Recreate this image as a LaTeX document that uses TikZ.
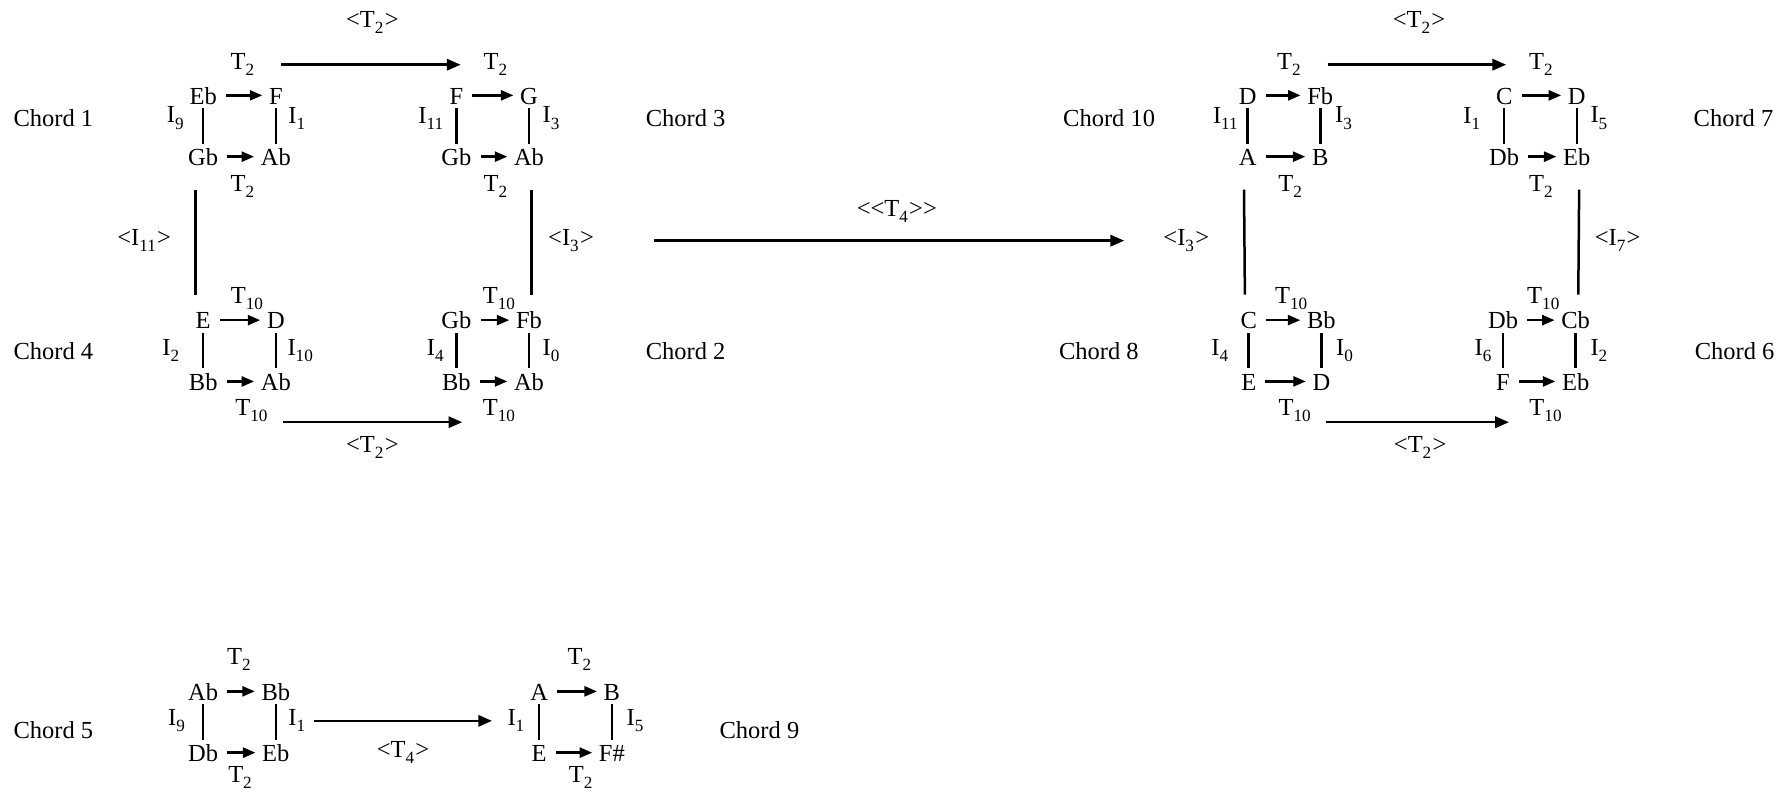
\documentclass[tikz,border=0pt]{standalone}
\usepackage{fontspec}
\setmainfont{Liberation Serif}
\usepackage{tikz}
\usetikzlibrary{arrows.meta}

\newcommand{\low}[1]{\textsubscript{\raisebox{-0.3ex}{#1}}}

\begin{document}
\begin{tikzpicture}[x=0.454pt, y=-0.454pt,
    font=\fontsize{9.8}{11}\selectfont,
    note/.style={inner xsep=2.5pt, inner ysep=1.5pt, text height=7pt, text depth=0pt},
    op/.style={inner sep=1pt},
    move/.style={-{Triangle[length=5pt,width=4pt]}, line width=1pt, shorten <=1pt},
    link/.style={line width=1pt},
    bigmove/.style={-{Triangle[length=5.5pt,width=4.5pt]}, line width=1pt}
]
\useasboundingbox (0,0) rectangle (1568,697.7);

% Chord 1
\begin{scope}[shift={(179,84)}, name prefix=c1-]
\node[note] (tl) at (0,0) {Eb};
\node[note] (tr) at (64,0) {F};
\node[note] (bl) at (0,54) {Gb};
\node[note] (br) at (64,54) {Ab};
\node[op] (tt) at (35,-27) {T\low{2}};
\node[op] (tb) at (35,80) {T\low{2}};
\node[op] (il) at (-24,20) {I\low{9}};
\node[op] (ir) at (83,20) {I\low{1}};
\draw[move] (tl) -- (tr);
\draw[move] (bl) -- (br);
\draw[link] (tl) -- (bl);
\draw[link] (tr) -- (br);
\end{scope}

% Chord 3
\begin{scope}[shift={(402,84)}, name prefix=c3-]
\node[note] (tl) at (0,0) {F};
\node[note] (tr) at (64,0) {G};
\node[note] (bl) at (0,54) {Gb};
\node[note] (br) at (64,54) {Ab};
\node[op] (tt) at (35,-27) {T\low{2}};
\node[op] (tb) at (35,80) {T\low{2}};
\node[op] (il) at (-22,20) {I\low{11}};
\node[op] (ir) at (84,20) {I\low{3}};
\draw[move] (tl) -- (tr);
\draw[move] (bl) -- (br);
\draw[link] (tl) -- (bl);
\draw[link] (tr) -- (br);
\end{scope}

% Chord 4
\begin{scope}[shift={(179,282)}, name prefix=c4-]
\node[note] (tl) at (0,0) {E};
\node[note] (tr) at (64,0) {D};
\node[note] (bl) at (0,54) {Bb};
\node[note] (br) at (64,54) {Ab};
\node[op] (tt) at (39,-19) {T\low{10}};
\node[op] (tb) at (43,80) {T\low{10}};
\node[op] (il) at (-28,27) {I\low{2}};
\node[op] (ir) at (86,27) {I\low{10}};
\draw[move] (tl) -- (tr);
\draw[move] (bl) -- (br);
\draw[link] (tl) -- (bl);
\draw[link] (tr) -- (br);
\end{scope}

% Chord 2
\begin{scope}[shift={(402,282)}, name prefix=c2-]
\node[note] (tl) at (0,0) {Gb};
\node[note] (tr) at (64,0) {Fb};
\node[note] (bl) at (0,54) {Bb};
\node[note] (br) at (64,54) {Ab};
\node[op] (tt) at (38,-19) {T\low{10}};
\node[op] (tb) at (38,80) {T\low{10}};
\node[op] (il) at (-18,27) {I\low{4}};
\node[op] (ir) at (84,27) {I\low{0}};
\draw[move] (tl) -- (tr);
\draw[move] (bl) -- (br);
\draw[link] (tl) -- (bl);
\draw[link] (tr) -- (br);
\end{scope}

% Chord 10
\begin{scope}[shift={(1099,84)}, name prefix=c10-]
\node[note] (tl) at (0,0) {D};
\node[note] (tr) at (64,0) {Fb};
\node[note] (bl) at (0,54) {A};
\node[note] (br) at (64,54) {B};
\node[op] (tt) at (37,-27) {T\low{2}};
\node[op] (tb) at (38,80) {T\low{2}};
\node[op] (il) at (-19,20) {I\low{11}};
\node[op] (ir) at (85,20) {I\low{3}};
\draw[move] (tl) -- (tr);
\draw[move] (bl) -- (br);
\draw[link] (tl) -- (bl);
\draw[link] (tr) -- (br);
\end{scope}

% Chord 7
\begin{scope}[shift={(1325,84)}, name prefix=c7-]
\node[note] (tl) at (0,0) {C};
\node[note] (tr) at (64,0) {D};
\node[note] (bl) at (0,54) {Db};
\node[note] (br) at (64,54) {Eb};
\node[op] (tt) at (33,-27) {T\low{2}};
\node[op] (tb) at (33,80) {T\low{2}};
\node[op] (il) at (-28,20) {I\low{1}};
\node[op] (ir) at (84,20) {I\low{5}};
\draw[move] (tl) -- (tr);
\draw[move] (bl) -- (br);
\draw[link] (tl) -- (bl);
\draw[link] (tr) -- (br);
\end{scope}

% Chord 8
\begin{scope}[shift={(1100,282)}, name prefix=c8-]
\node[note] (tl) at (0,0) {C};
\node[note] (tr) at (64,0) {Bb};
\node[note] (bl) at (0,54) {E};
\node[note] (br) at (64,54) {D};
\node[op] (tt) at (38,-19) {T\low{10}};
\node[op] (tb) at (41,80) {T\low{10}};
\node[op] (il) at (-25,27) {I\low{4}};
\node[op] (ir) at (85,27) {I\low{0}};
\draw[move] (tl) -- (tr);
\draw[move] (bl) -- (br);
\draw[link] (tl) -- (bl);
\draw[link] (tr) -- (br);
\end{scope}

% Chord 6
\begin{scope}[shift={(1324,282)}, name prefix=c6-]
\node[note] (tl) at (0,0) {Db};
\node[note] (tr) at (64,0) {Cb};
\node[note] (bl) at (0,54) {F};
\node[note] (br) at (64,54) {Eb};
\node[op] (tt) at (36,-19) {T\low{10}};
\node[op] (tb) at (38,80) {T\low{10}};
\node[op] (il) at (-17,27) {I\low{6}};
\node[op] (ir) at (85,27) {I\low{2}};
\draw[move] (tl) -- (tr);
\draw[move] (bl) -- (br);
\draw[link] (tl) -- (bl);
\draw[link] (tr) -- (br);
\end{scope}

% Chord 5
\begin{scope}[shift={(179,609)}, name prefix=c5-]
\node[note] (tl) at (0,0) {Ab};
\node[note] (tr) at (64,0) {Bb};
\node[note] (bl) at (0,54) {Db};
\node[note] (br) at (64,54) {Eb};
\node[op] (tt) at (32,-28) {T\low{2}};
\node[op] (tb) at (33,76) {T\low{2}};
\node[op] (il) at (-23,26) {I\low{9}};
\node[op] (ir) at (83,26) {I\low{1}};
\draw[move] (tl) -- (tr);
\draw[move] (bl) -- (br);
\draw[link] (tl) -- (bl);
\draw[link] (tr) -- (br);
\end{scope}

% Chord 9
\begin{scope}[shift={(475,609)}, name prefix=c9-]
\node[note] (tl) at (0,0) {A};
\node[note] (tr) at (64,0) {B};
\node[note] (bl) at (0,54) {E};
\node[note] (br) at (64,54) {F\#};
\node[op] (tt) at (36,-28) {T\low{2}};
\node[op] (tb) at (37,76) {T\low{2}};
\node[op] (il) at (-20,26) {I\low{1}};
\node[op] (ir) at (85,26) {I\low{5}};
\draw[move] (tl) -- (tr);
\draw[move] (bl) -- (br);
\draw[link] (tl) -- (bl);
\draw[link] (tr) -- (br);
\end{scope}

% chord names
\node (ch1) at (47,104) {Chord 1};
\node (ch3) at (604,104) {Chord 3};
\node (ch4) at (47,309) {Chord 4};
\node (ch2) at (604,309) {Chord 2};
\node (ch10) at (977,104) {Chord 10};
\node (ch7) at (1527,104) {Chord 7};
\node (ch8) at (968,309) {Chord 8};
\node (ch6) at (1528,309) {Chord 6};
\node (ch5) at (47,643) {Chord 5};
\node (ch9) at (669,643) {Chord 9};

% operations between chords
\node[op] (T13) at (328,20) {<T\low{2}>};
\node[op] (T42) at (328,394) {<T\low{2}>};
\node[op] (I14) at (127,212) {<I\low{11}>};
\node[op] (I32) at (503,212) {<I\low{3}>};
\node[op] (T4) at (790,186) {<{}<T\low{4}>{}>};
\node[op] (I108) at (1045,212) {<I\low{3}>};
\node[op] (I76) at (1425,212) {<I\low{7}>};
\node[op] (T107) at (1250,20) {<T\low{2}>};
\node[op] (T86) at (1251,394) {<T\low{2}>};
\node[op] (T59) at (355,663) {<T\low{4}>};

\draw[bigmove, shorten <=9pt, shorten >=8pt] (c1-tt) -- (c3-tt);
\draw[bigmove, shorten <=4.5pt, shorten >=7pt] ([yshift=-4.5pt]c4-tb.east) -- ([yshift=-4.5pt]c2-tb.west);
\draw[link, shorten <=8pt, shorten >=5pt] ([xshift=-3pt]c1-bl.south) -- ([xshift=-3pt]c4-tl.north);
\draw[link, shorten <=8pt, shorten >=5pt] ([xshift=1pt]c3-br.south) -- ([xshift=1pt]c2-tr.north);

\draw[bigmove, shorten <=23pt, shorten >=14.5pt] (I32) -- (I108);

\draw[bigmove, shorten <=9pt, shorten >=8pt] (c10-tt) -- (c7-tt);
\draw[bigmove, shorten <=4.5pt, shorten >=7pt] ([yshift=-4.5pt]c8-tb.east) -- ([yshift=-4.5pt]c6-tb.west);
\draw[link, shorten <=8pt, shorten >=5pt] ([xshift=-1.5pt]c10-bl.south) -- ([xshift=-1.5pt]c8-tl.north);
\draw[link, shorten <=8pt, shorten >=5pt] ([xshift=1pt]c7-br.south) -- ([xshift=1pt]c6-tr.north);

\draw[bigmove, shorten <=2pt, shorten >=5pt] (c5-ir) -- (c9-il);
\end{tikzpicture}
\end{document}
